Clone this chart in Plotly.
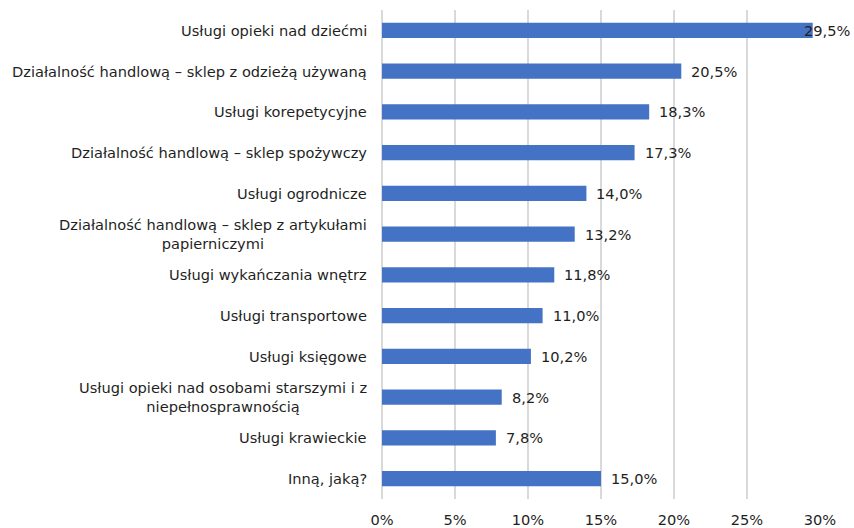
import plotly.graph_objects as go

categories = [
    "Usługi opieki nad dziećmi",
    "Działalność handlową – sklep z odzieżą używaną",
    "Usługi korepetycyjne",
    "Działalność handlową – sklep spożywczy",
    "Usługi ogrodnicze",
    "Działalność handlową – sklep z artykułami<br>papierniczymi",
    "Usługi wykańczania wnętrz",
    "Usługi transportowe",
    "Usługi księgowe",
    "Usługi opieki nad osobami starszymi i z<br>niepełnosprawnością",
    "Usługi krawieckie",
    "Inną, jaką?",
]
values = [29.5, 20.5, 18.3, 17.3, 14.0, 13.2, 11.8, 11.0, 10.2, 8.2, 7.8, 15.0]
tick_vals = [0, 5, 10, 15, 20, 25, 30]
tick_text = ["0%", "5%", "10%", "15%", "20%", "25%", "30%"]

FONT = "DejaVu Sans"
TXT = "#1f1f1f"
FS = 14.6

fig = go.Figure(go.Bar(
    x=values,
    y=categories,
    orientation="h",
    marker=dict(color="#4472C4", line=dict(width=0)),
    width=0.37,
))

# category labels (centered multi-line, right-aligned to the axis)
for c in categories:
    fig.add_annotation(
        x=0, y=c, xref="paper", yref="y",
        text=c, showarrow=False, xanchor="right", align="center",
        xshift=-13, font=dict(family=FONT, size=FS, color=TXT),
    )

# value labels
for c, v in zip(categories, values):
    shift = -11 if v >= 29 else 8
    fig.add_annotation(
        x=v, y=c, xref="x", yref="y",
        text=f"{v:.1f}%".replace(".", ","), showarrow=False,
        xanchor="left", xshift=shift,
        font=dict(family=FONT, size=FS, color=TXT),
    )

fig.update_layout(
    width=854, height=528,
    margin=dict(l=382, r=34, t=10, b=29),
    paper_bgcolor="white", plot_bgcolor="white",
    showlegend=False,
    font=dict(family=FONT, size=FS, color=TXT),
    xaxis=dict(
        range=[0, 30], tickvals=tick_vals, ticktext=tick_text,
        showgrid=True, gridcolor="#d9d9d9", gridwidth=1.5,
        zeroline=True, zerolinecolor="#d9d9d9", zerolinewidth=1.5,
        showline=False, ticks="",
        ticklabelstandoff=10, automargin=False,
        tickfont=dict(family=FONT, size=FS, color=TXT),
        fixedrange=True,
    ),
    yaxis=dict(
        autorange="reversed", showticklabels=False, ticks="",
        showgrid=False, zeroline=False, showline=False, automargin=False,
    ),
)

fig.write_html("out.html")
